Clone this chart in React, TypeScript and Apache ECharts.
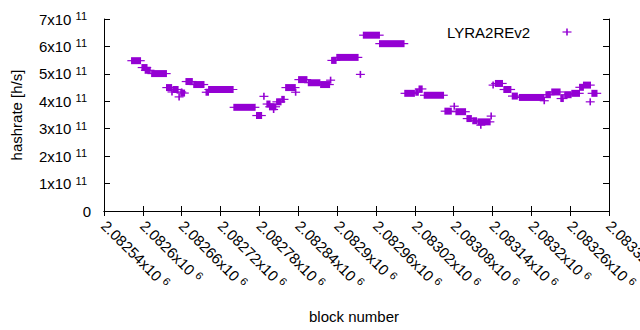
import React, { useEffect, useRef } from 'react';
import * as echarts from 'echarts';

// runs of consecutive blocks that share the same reported hashrate (start block, end block, h/s)
const runStart = [
  2082583, 2082599, 2082604, 2082614, 2082637, 2082645, 2082647, 2082656, 2082659, 2082660,
  2082667, 2082679, 2082698, 2082702, 2082741, 2082776, 2082787, 2082792, 2082796, 2082802,
  2082807, 2082815, 2082821, 2082836, 2082841, 2082856, 2082875, 2082890, 2082892, 2082900,
  2082936, 2082941, 2082966, 2083005, 2083022, 2083027, 2083035, 2083067, 2083081, 2083084,
  2083101, 2083110, 2083118, 2083122, 2083138, 2083141, 2083145, 2083158, 2083171, 2083182,
  2083220, 2083223, 2083232, 2083246, 2083252, 2083263, 2083275, 2083281, 2083291, 2083294,
];
const runEnd = [
  2082596, 2082606, 2082611, 2082636, 2082644, 2082645, 2082654, 2082656, 2082664, 2082660,
  2082676, 2082694, 2082701, 2082739, 2082773, 2082783, 2082787, 2082796, 2082805, 2082802,
  2082813, 2082818, 2082835, 2082836, 2082853, 2082873, 2082888, 2082890, 2082898, 2082932,
  2082936, 2082965, 2083003, 2083019, 2083025, 2083031, 2083064, 2083076, 2083081, 2083098,
  2083107, 2083115, 2083136, 2083122, 2083138, 2083141, 2083155, 2083168, 2083178, 2083219,
  2083220, 2083229, 2083244, 2083249, 2083261, 2083274, 2083280, 2083291, 2083291, 2083301,
];
const hashrate = [
  5.48e11, 5.23e11, 5.13e11, 5.01e11, 4.5e11, 4.34e11, 4.43e11, 4.16e11, 4.3e11, 4.34e11,
  4.72e11, 4.61e11, 4.33e11, 4.43e11, 3.78e11, 3.48e11, 4.18e11, 3.9e11, 3.8e11, 3.7e11,
  3.98e11, 4.07e11, 4.5e11, 4.33e11, 4.79e11, 4.68e11, 4.61e11, 4.77e11, 5.49e11, 5.6e11,
  4.98e11, 6.41e11, 6.1e11, 4.29e11, 4.33e11, 4.45e11, 4.22e11, 3.64e11, 3.82e11, 3.62e11,
  3.37e11, 3.29e11, 3.25e11, 3.13e11, 3.46e11, 4.59e11, 4.65e11, 4.43e11, 4.19e11, 4.14e11,
  4.02e11, 4.24e11, 4.34e11, 4.1e11, 4.24e11, 4.29e11, 4.51e11, 4.59e11, 3.98e11, 4.29e11,
];

const seriesName = 'LYRA2REv2';
const xTickMantissa = [
  '2.08254', '2.0826', '2.08266', '2.08272', '2.08278', '2.08284', '2.0829',
  '2.08296', '2.08302', '2.08308', '2.08314', '2.0832', '2.08326', '2.08332',
];
const xTickExponent = '6';
const yTickMantissa = ['0', '1', '2', '3', '4', '5', '6', '7'];
const yTickExponent = '11';

const X_MIN = 2082540;
const X_MAX = 2083320;
const X_STEP = 60;
const Y_STEP = 1e11;
const COLOR = '#9400d3';
const FONT = '"Liberation Sans", Arial, sans-serif';

export default function App() {
  const ref = useRef<HTMLDivElement>(null);
  useEffect(() => {
    if (!ref.current) return;
    const chart = echarts.init(ref.current, null, { renderer: 'svg' });
    const data = runStart.map((s, i) => [s, runEnd[i], hashrate[i]]);
    const supRichX = {
      a: { fontSize: 15, fontFamily: FONT, color: '#000' },
      s: { fontSize: 11, fontFamily: FONT, color: '#000', padding: [0, 0, 6, 0] },
    };
    const supRichY = {
      a: { fontSize: 15, fontFamily: FONT, color: '#000' },
      s: { fontSize: 11, fontFamily: FONT, color: '#000', padding: [0, 4, 6, 0] },
    };
    chart.setOption({
      animation: false,
      backgroundColor: '#fff',
      textStyle: { fontFamily: FONT },
      grid: { left: 104, right: 31, top: 19, bottom: 119, containLabel: false, outerBoundsMode: 'none' },
      xAxis: [
        {
          type: 'value', min: X_MIN, max: X_MAX, interval: X_STEP,
          axisLine: { show: true, lineStyle: { color: '#000', width: 1 } },
          axisTick: { show: true, inside: true, length: 5, lineStyle: { color: '#000' } },
          splitLine: { show: false },
          axisLabel: {
            rotate: -45, margin: 12, fontSize: 15, color: '#000', fontFamily: FONT,
            showMinLabel: true, showMaxLabel: true,
            formatter: (v: number) => {
              const idx = Math.round((v - X_MIN) / X_STEP);
              return `{a|${xTickMantissa[idx]}x10} {s|${xTickExponent}}`;
            },
            rich: supRichX,
          },
        },
        {
          type: 'value', position: 'top', min: X_MIN, max: X_MAX, interval: X_STEP,
          axisLine: { show: true, lineStyle: { color: '#000', width: 1 } },
          axisTick: { show: true, inside: true, length: 5, lineStyle: { color: '#000' } },
          axisLabel: { show: false }, splitLine: { show: false },
        },
      ],
      yAxis: [
        {
          type: 'value', min: 0, max: 7e11, interval: Y_STEP,
          axisLine: { show: true, lineStyle: { color: '#000', width: 1 } },
          axisTick: { show: true, inside: true, length: 6, lineStyle: { color: '#000' } },
          splitLine: { show: false },
          axisLabel: {
            margin: 13, fontSize: 15, color: '#000', fontFamily: FONT,
            formatter: (v: number) => {
              const idx = Math.round(v / Y_STEP);
              if (idx === 0) return yTickMantissa[0];
              return `{a|${yTickMantissa[idx]}x10} {s|${yTickExponent}}`;
            },
            rich: supRichY,
          },
        },
        {
          type: 'value', position: 'right', min: 0, max: 7e11, interval: Y_STEP,
          axisLine: { show: true, lineStyle: { color: '#000', width: 1 } },
          axisTick: { show: true, inside: true, length: 6, lineStyle: { color: '#000' } },
          axisLabel: { show: false }, splitLine: { show: false },
        },
      ],
      series: [
        {
          name: seriesName,
          type: 'custom',
          xAxisIndex: 0,
          yAxisIndex: 0,
          itemStyle: { color: COLOR },
          encode: { x: [0, 1], y: 2 },
          data,
          renderItem: (params: any, api: any) => {
            const p0 = api.coord([api.value(0), api.value(2)]);
            const p1 = api.coord([api.value(1), api.value(2)]);
            return {
              type: 'group',
              children: [
                {
                  type: 'rect',
                  shape: { x: p0[0] - 0.8, y: p0[1] - 3.5, width: p1[0] - p0[0] + 1.6, height: 7 },
                  style: { fill: COLOR },
                },
                {
                  type: 'line',
                  shape: { x1: p0[0] - 4.5, y1: p0[1], x2: p1[0] + 4.5, y2: p1[1] },
                  style: { stroke: COLOR, lineWidth: 1.2 },
                },
              ],
            };
          },
        },
      ],
      graphic: [
        {
          type: 'text',
          x: 16.5, y: 115, rotation: Math.PI / 2,
          style: { text: 'hashrate [h/s]', fontSize: 15, fontFamily: FONT, fill: '#000', textAlign: 'center', textVerticalAlign: 'middle' },
        },
        {
          type: 'text', x: 354, y: 316,
          style: { text: 'block number', fontSize: 15, fontFamily: FONT, fill: '#000', textAlign: 'center', textVerticalAlign: 'middle' },
        },
        {
          type: 'text', x: 447, y: 32,
          style: { text: seriesName, fontSize: 15, fontFamily: FONT, fill: '#000', textAlign: 'left', textVerticalAlign: 'middle' },
        },
        {
          type: 'line', shape: { x1: 562.5, y1: 32, x2: 571.5, y2: 32 },
          style: { stroke: COLOR, lineWidth: 1.2 },
        },
        {
          type: 'line', shape: { x1: 567, y1: 28.5, x2: 567, y2: 35.5 },
          style: { stroke: COLOR, lineWidth: 1.6 },
        },
      ],
    });
    return () => chart.dispose();
  }, []);
  return (
    <div
      ref={ref}
      style={{ position: 'fixed', left: 0, top: 0, width: 640, height: 330, background: '#fff' }}
    />
  );
}
